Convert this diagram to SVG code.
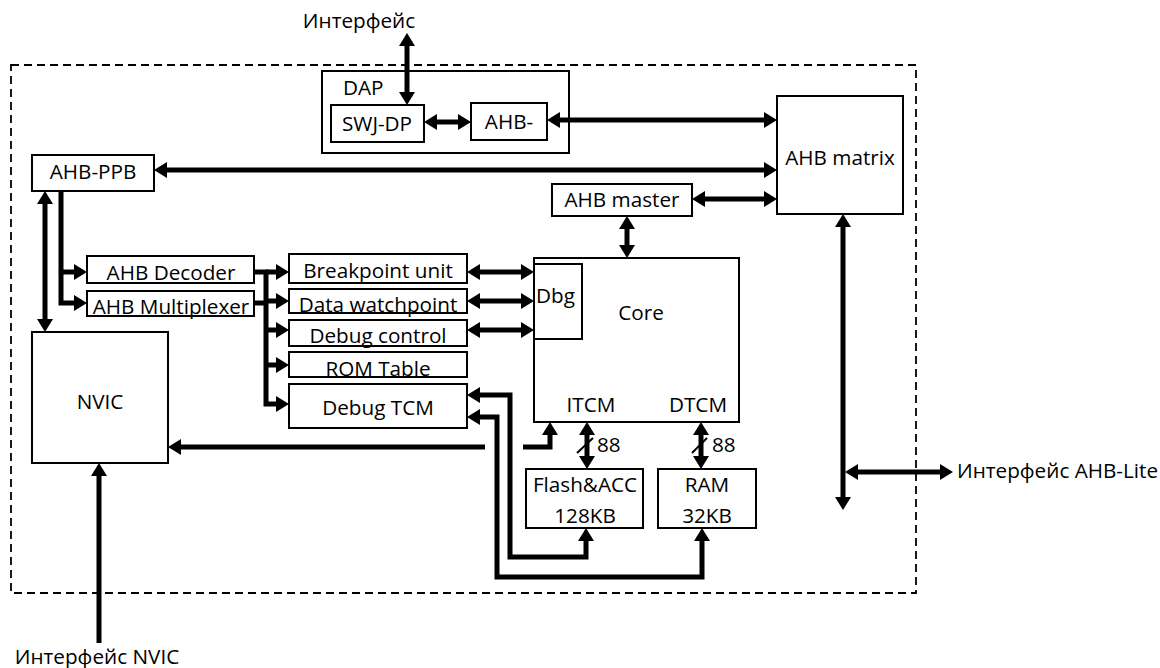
<svg xmlns="http://www.w3.org/2000/svg" width="1160" height="668" viewBox="0 0 1160 668">
<style>
.box{fill:#fff;stroke:#000;stroke-width:2}
.t{font-family:"Open Sans","Liberation Sans",sans-serif;font-size:20.7px;fill:#000}
.c{text-anchor:middle}
.w{fill:none;stroke:#000;stroke-width:5}
.b{marker-start:url(#ah);marker-end:url(#ah)}
.e{marker-end:url(#ah)}
.thin{fill:none;stroke:#000;stroke-width:2}
</style>
<defs>
<marker id="ah" markerUnits="userSpaceOnUse" markerWidth="14" markerHeight="16" refX="5" refY="8" orient="auto-start-reverse" viewBox="0 0 14 16"><path d="M0,0 L13,8 L0,16 z" fill="#000"/></marker>
</defs>
<rect width="1160" height="668" fill="#fff"/>
<rect id="boundary" x="11" y="65" width="905" height="528" fill="none" stroke="#000" stroke-width="1.8" stroke-dasharray="8,5"/>

<g id="dap"><rect class="box" x="322" y="71" width="247" height="82"/><text class="t" x="343" y="95">DAP</text></g>
<g id="swjdp"><rect class="box" x="331" y="105" width="93" height="37"/><text class="t c" x="377" y="131">SWJ-DP</text></g>
<g id="ahbap"><rect class="box" x="471" y="103" width="76" height="37"/><text class="t c" x="509" y="129">AHB-</text></g>
<g id="matrix"><rect class="box" x="777" y="96" width="126" height="118"/><text class="t c" x="840" y="165">AHB matrix</text></g>
<g id="ppb"><rect class="box" x="32" y="155" width="122" height="36"/><text class="t c" x="93" y="179">AHB-PPB</text></g>
<g id="master"><rect class="box" x="552" y="184" width="140" height="32"/><text class="t c" x="622" y="207">AHB master</text></g>
<g id="decoder"><rect class="box" x="87" y="256" width="167" height="27"/><text class="t c" x="171" y="280">AHB Decoder</text></g>
<g id="mux"><rect class="box" x="87" y="291" width="167" height="25"/><text class="t c" x="171" y="314">AHB Multiplexer</text></g>
<g id="bpu"><rect class="box" x="289" y="254" width="178" height="29"/><text class="t c" x="378" y="278">Breakpoint unit</text></g>
<g id="dwt"><rect class="box" x="289" y="289" width="178" height="24"/><text class="t c" x="378" y="312">Data watchpoint</text></g>
<g id="dctl"><rect class="box" x="289" y="320" width="178" height="26"/><text class="t c" x="378" y="343">Debug control</text></g>
<g id="rom"><rect class="box" x="289" y="352" width="178" height="25"/><text class="t c" x="378" y="376">ROM Table</text></g>
<g id="dtcm"><rect class="box" x="289" y="384" width="178" height="44"/><text class="t c" x="378" y="415">Debug TCM</text></g>
<g id="core"><rect class="box" x="534" y="258" width="205" height="164"/><text class="t c" x="641" y="320">Core</text><text class="t c" x="591" y="412">ITCM</text><text class="t c" x="698" y="412">DTCM</text></g>
<g id="dbg"><rect class="box" x="534" y="264" width="48" height="75"/><text class="t" x="536" y="303">Dbg</text></g>
<g id="nvic"><rect class="box" x="32" y="332" width="136" height="131"/><text class="t c" x="100" y="409">NVIC</text></g>
<g id="flash"><rect class="box" x="526" y="469" width="117" height="59"/><text class="t c" x="585" y="492">Flash&amp;ACC</text><text class="t c" x="585" y="523">128KB</text></g>
<g id="ram"><rect class="box" x="658" y="469" width="98" height="59"/><text class="t c" x="707" y="492">RAM</text><text class="t c" x="707" y="523">32KB</text></g>

<g id="labels">
<text class="t c" x="359" y="28">Интерфейс</text>
<text class="t" x="957" y="478">Интерфейс AHB-Lite</text>
<text class="t c" x="97" y="664">Интерфейс NVIC</text>
<text class="t" x="597" y="452">88</text>
<text class="t" x="712" y="452">88</text>
</g>

<g id="connectors">
<path class="w b" d="M407,41 V97"/>
<path class="w b" d="M432,122 H463"/>
<path class="w b" d="M555,120 H769"/>
<path class="w b" d="M162,170 H769"/>
<path class="w b" d="M700,199 H769"/>
<path class="w b" d="M627,224 V250"/>
<path class="w b" d="M45,199 V324"/>
<path class="w e" d="M61,191 V303 H79"/>
<path class="w e" d="M61,272 H79"/>
<path class="w e" d="M254,272 H266 V404 H281"/>
<path class="w" d="M254,303 H266"/>
<path class="w e" d="M266,272 H281"/>
<path class="w e" d="M266,301 H281"/>
<path class="w e" d="M266,330 H281"/>
<path class="w e" d="M266,365 H281"/>
<path class="w b" d="M475,272 H526"/>
<path class="w b" d="M475,301 H526"/>
<path class="w b" d="M475,330 H526"/>
<path class="w b" d="M475,395 H510 V557 H586 V536"/>
<path class="w b" d="M475,417 H497 V577 H702 V536"/>
<path class="w e" d="M485,447 H176"/>
<path class="w e" d="M523,447 H550 V430"/>
<path class="w b" d="M587,430 V461"/>
<path class="w b" d="M701,430 V461"/>
<path class="thin" d="M577,453 L593,438"/>
<path class="thin" d="M692,453 L707,438"/>
<path class="w b" d="M843,222 V502"/>
<path class="w b" d="M853,472 H945"/>
<path class="w e" d="M99,643 V471"/>
</g>
</svg>
